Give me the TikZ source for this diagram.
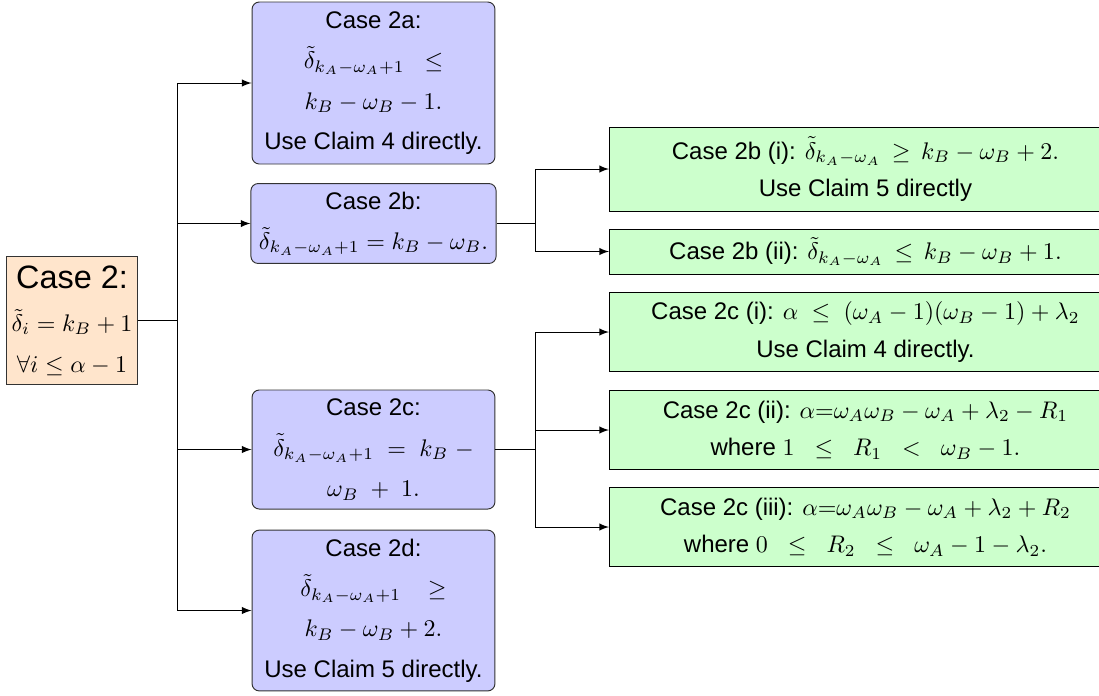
\documentclass[tikz,border=0pt]{standalone}
\usepackage{amsmath}
\usepackage{amssymb}
\usepackage{fontspec}
\setmainfont{Liberation Sans}
\usetikzlibrary{positioning}

\begin{document}
\begin{tikzpicture}[x=0.4167pt, y=-0.4167pt,
    casebox/.style={draw=black!80, fill=orange!20, align=center, inner sep=1pt,
        font=\fontsize{10}{17}\selectfont},
    bluebox/.style={draw=black!80, fill=blue!20, rounded corners=3pt, align=center,
        minimum width=101.2pt, font=\fontsize{10}{16.8}\selectfont},
    greenbox/.style={draw, fill=green!20, align=center, minimum width=213.3pt,
        anchor=west, font=\fontsize{10}{15.5}\selectfont},
    arr/.style={-latex}]
                \useasboundingbox (0,0) rectangle (1099,695);
                \clip (0,0) rectangle (1099,695);

                %Nodes
                \node[casebox, minimum width=54.2pt, minimum height=53pt] at (72,320.5) (c2)
                    {{\fontsize{13.5}{16}\selectfont Case 2:}\\[1pt]
                     $\tilde{\delta}_i = k_B + 1$\\
                     $\forall i \leq \alpha - 1$};
                \node[bluebox, minimum height=67.5pt] at (373.5,83) (c2a)
                    {Case 2a:\\ $\tilde{\delta}_{k_A-\omega_A+1}\;\;\leq$\\
                     $k_B - \omega_B - 1.$\\ Use Claim 4 directly.};
                \node[bluebox, minimum height=33.3pt] at (373.5,223.5) (c2b)
                    {Case 2b:\\ $\tilde{\delta}_{k_A-\omega_A+1} = k_B - \omega_B.$};
                \node[bluebox, minimum height=49.6pt] at (373.5,449.5) (c2c)
                    {Case 2c:\\ $\tilde{\delta}_{k_A-\omega_A+1} \;=\; k_B \;-$\\
                     $\omega_B \;+\; 1.$};
                \node[bluebox, minimum height=67pt] at (373.5,610.5) (c2d)
                    {Case 2d:\\ $\tilde{\delta}_{k_A-\omega_A+1}\;\;\;\geq$\\
                     $k_B - \omega_B + 2.$\\ Use Claim 5 directly.};

                \node[greenbox, minimum height=35pt] at (609,169) (c2bi)
                    {Case 2b (i): $\tilde{\delta}_{k_A-\omega_A} \,\geq\, k_B - \omega_B + 2.$\\
                     Use Claim 5 directly};
                \node[greenbox, minimum height=18.75pt] at (609,251.5) (c2bii)
                    {Case 2b (ii): $\tilde{\delta}_{k_A-\omega_A} \,\leq\, k_B - \omega_B + 1.$};
                \node[greenbox, minimum height=33.3pt] at (609,332) (c2ci)
                    {Case 2c (i): $\alpha \;\leq\; (\omega_A - 1)(\omega_B - 1) + \lambda_2$\\
                     Use Claim 4 directly.};
                \node[greenbox, minimum height=33pt] at (609,430) (c2cii)
                    {Case 2c (ii): $\alpha{=}\omega_A\omega_B - \omega_A + \lambda_2 - R_1$\\
                     where $1 \;\;\leq\;\; R_1 \;\;<\;\; \omega_B - 1.$};
                \node[greenbox, minimum height=33pt] at (609,527) (c2ciii)
                    {Case 2c (iii): $\alpha{=}\omega_A\omega_B - \omega_A + \lambda_2 + R_2$\\
                     where $0 \;\;\leq\;\; R_2 \;\;\leq\;\; \omega_A - 1 - \lambda_2.$};

                \coordinate (T)  at (177,320.5);
                \coordinate (J1) at (535,223.5);
                \coordinate (J2) at (535,449.5);

                %Lines
                \draw[semithick] (c2) -- (T);
                \draw[arr] (T) |- (c2a.west);
                \draw[arr] (T) |- (c2b.west);
                \draw[arr] (T) |- (c2c.west);
                \draw[arr] (T) |- (c2d.west);
                \draw (c2b) -- (J1);
                \draw[arr] (J1) |- (c2bi.west);
                \draw[arr] (J1) |- (c2bii.west);
                \draw[semithick] (c2c) -- (J2);
                \draw[arr] (J2) |- (c2ci.west);
                \draw[arr] (J2) |- (c2cii.west);
                \draw[arr] (J2) |- (c2ciii.west);
            \end{tikzpicture}
\end{document}
